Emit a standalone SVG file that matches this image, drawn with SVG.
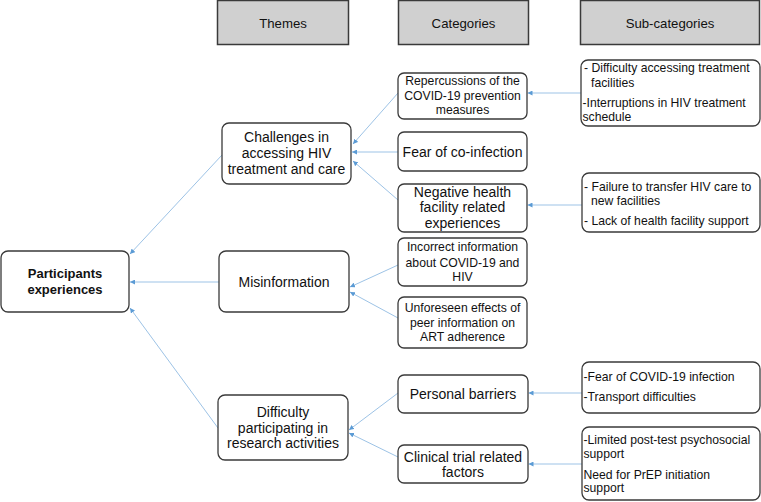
<svg xmlns="http://www.w3.org/2000/svg" width="761" height="502" viewBox="0 0 761 502">
<defs>
<style>
.hdr{fill:#d0d0d0;stroke:#3a3a3a;stroke-width:1.5}
.box{fill:#fff;stroke:#3a3a3a;stroke-width:1.3}
text{font-family:"Liberation Sans",Arial,sans-serif;fill:#111;dominant-baseline:central}
.c{text-anchor:middle}
.h{font-size:13.2px}
.b{font-size:14px}
.s{font-size:12.2px}
.p{font-size:13px;font-weight:bold}
.conn line{stroke:#9dc3e6;stroke-width:1;marker-end:url(#ah)}
</style>
<marker id="ah" viewBox="0 0 10 10" refX="10" refY="5" markerWidth="5" markerHeight="5" markerUnits="userSpaceOnUse" orient="auto">
<path d="M0,0 L10,5 L0,10 z" fill="#5b9bd5"/>
</marker>
</defs>
<rect width="761" height="502" fill="#fff"/>

<g id="hdr-themes"><rect class="hdr" x="217.5" y="0.5" width="131" height="44"/><text class="h c" x="283" y="23">Themes</text></g>
<g id="hdr-categories"><rect class="hdr" x="398.5" y="0.5" width="130" height="44"/><text class="h c" x="463.5" y="23">Categories</text></g>
<g id="hdr-subcategories"><rect class="hdr" x="580.5" y="0.5" width="179" height="44"/><text class="h c" x="670" y="23">Sub-categories</text></g>

<g class="conn" id="connectors">
<line x1="222" y1="155" x2="130" y2="254"/>
<line x1="219" y1="282" x2="130" y2="282"/>
<line x1="218" y1="428" x2="130" y2="308"/>
<line x1="398" y1="93" x2="353" y2="144"/>
<line x1="398" y1="152" x2="352" y2="152"/>
<line x1="398" y1="200" x2="353" y2="161"/>
<line x1="398" y1="265" x2="350" y2="287"/>
<line x1="398" y1="318" x2="350" y2="292"/>
<line x1="398" y1="393" x2="349" y2="430"/>
<line x1="398" y1="457" x2="349" y2="433"/>
<line x1="581" y1="93" x2="527.5" y2="93"/>
<line x1="582" y1="205" x2="527.5" y2="205"/>
<line x1="582" y1="393" x2="528.5" y2="393"/>
<line x1="582" y1="464" x2="528.5" y2="464"/>
</g>

<g id="participants"><rect class="box" x="1" y="251" width="128" height="61" rx="7"/><text class="p c" x="65" y="273">Participants</text><text class="p c" x="65" y="289">experiences</text></g>

<g id="challenges"><rect class="box" x="222" y="123" width="129" height="61" rx="7"/><text class="b c" x="286.5" y="137">Challenges in</text><text class="b c" x="286.5" y="153">accessing HIV</text><text class="b c" x="286.5" y="169">treatment and care</text></g>
<g id="misinformation"><rect class="box" x="219" y="251" width="130" height="61" rx="7"/><text class="b c" x="284" y="282">Misinformation</text></g>
<g id="difficulty"><rect class="box" x="218" y="395" width="130" height="65" rx="7"/><text class="b c" x="283" y="412">Difficulty</text><text class="b c" x="283" y="428">participating in</text><text class="b c" x="283" y="443">research activities</text></g>

<g id="repercussions"><rect class="box" x="398" y="73" width="129" height="46" rx="6"/><text class="s c" x="462.5" y="81">Repercussions of the</text><text class="s c" x="462.5" y="96">COVID-19 prevention</text><text class="s c" x="462.5" y="110">measures</text></g>
<g id="fear"><rect class="box" x="398" y="132" width="129" height="39" rx="6"/><text class="b c" x="462.5" y="152">Fear of co-infection</text></g>
<g id="negative"><rect class="box" x="398" y="184" width="129" height="48" rx="6"/><text class="b c" x="462.5" y="192">Negative health</text><text class="b c" x="462.5" y="207">facility related</text><text class="b c" x="462.5" y="223">experiences</text></g>
<g id="incorrect"><rect class="box" x="398" y="238" width="129" height="48" rx="6"/><text class="s c" x="462.5" y="247">Incorrect information</text><text class="s c" x="462.5" y="263">about COVID-19 and</text><text class="s c" x="462.5" y="277">HIV</text></g>
<g id="unforeseen"><rect class="box" x="398" y="297" width="129" height="51" rx="6"/><text class="s c" x="462.5" y="308">Unforeseen effects of</text><text class="s c" x="462.5" y="323">peer information on</text><text class="s c" x="462.5" y="337">ART adherence</text></g>
<g id="personal"><rect class="box" x="398" y="375" width="130" height="38" rx="6"/><text class="b c" x="463" y="394">Personal barriers</text></g>
<g id="clinical"><rect class="box" x="398" y="445" width="130" height="38" rx="6"/><text class="b c" x="463" y="457">Clinical trial related</text><text class="b c" x="463" y="472">factors</text></g>

<g id="sub1"><rect class="box" x="581" y="60" width="179" height="66" rx="7"/><text class="s" x="584" y="68">- Difficulty accessing treatment</text><text class="s" x="591" y="83">facilities</text><text class="s" x="582.5" y="103">-Interruptions in HIV treatment</text><text class="s" x="582.5" y="117">schedule</text></g>
<g id="sub2"><rect class="box" x="582" y="173" width="178" height="59" rx="7"/><text class="s" x="584" y="187">- Failure to transfer HIV care to</text><text class="s" x="591" y="201">new facilities</text><text class="s" x="584" y="221">- Lack of health facility support</text></g>
<g id="sub3"><rect class="box" x="582" y="362" width="178" height="51" rx="7"/><text class="s" x="583.5" y="377">-Fear of COVID-19 infection</text><text class="s" x="583.5" y="397">-Transport difficulties</text></g>
<g id="sub4"><rect class="box" x="582" y="427" width="178" height="73" rx="7"/><text class="s" x="583.5" y="440">-Limited post-test psychosocial</text><text class="s" x="583.5" y="454">support</text><text class="s" x="583.5" y="475">Need for PrEP initiation</text><text class="s" x="583.5" y="488">support</text></g>
</svg>
